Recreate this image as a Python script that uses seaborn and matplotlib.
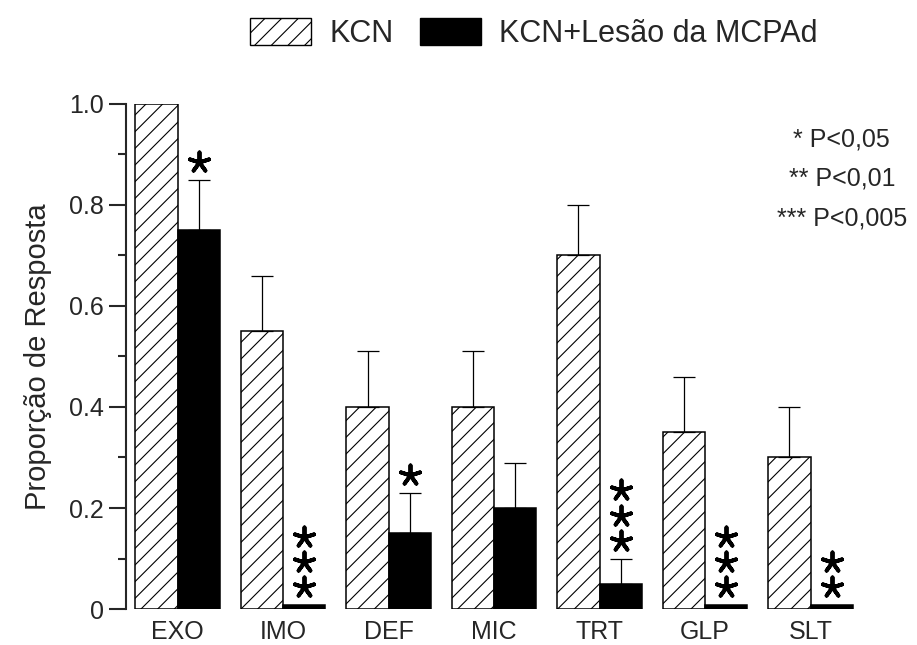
import matplotlib
matplotlib.use("Agg")
import matplotlib.pyplot as plt
import matplotlib.ticker as mticker
from matplotlib.patches import Patch
import seaborn as sns
import pandas as pd

categories = ["EXO", "IMO", "DEF", "MIC", "TRT", "GLP", "SLT"]
groups = ["KCN", "KCN+Lesão da MCPAd"]
kcn_vals = [1.0, 0.55, 0.40, 0.40, 0.70, 0.35, 0.30]
kcn_err = [0.0, 0.11, 0.11, 0.11, 0.10, 0.11, 0.10]
les_vals = [0.75, 0.008, 0.15, 0.20, 0.05, 0.008, 0.008]
les_err = [0.10, 0.0, 0.08, 0.09, 0.05, 0.0, 0.0]
les_stars = [1, 3, 1, 0, 3, 3, 2]
yticks = [0, 0.2, 0.4, 0.6, 0.8, 1.0]
ytick_labels = ["0", "0.2", "0.4", "0.6", "0.8", "1.0"]
pval_text = ["* P<0,05", "** P<0,01", "*** P<0,005"]

sns.set_style("ticks")
plt.rcParams["font.family"] = ["Liberation Sans", "DejaVu Sans"]
plt.rcParams["hatch.linewidth"] = 0.8

df = pd.DataFrame({
    "cat": categories * 2,
    "grp": [groups[0]] * len(categories) + [groups[1]] * len(categories),
    "val": kcn_vals + les_vals,
})

fig = plt.figure(figsize=(9.17, 6.45), dpi=100)
ax = fig.add_axes([0.1374, 0.0558, 0.804, 0.783])

sns.barplot(data=df, x="cat", y="val", hue="grp", order=categories,
            hue_order=groups, palette=["white", "black"], edgecolor="black",
            linewidth=1.1, errorbar=None, width=0.8, ax=ax, legend=False,
            saturation=1)

n = len(categories)
patches = list(ax.patches)
kcn_patches = patches[:n]
les_patches = patches[n:2 * n]
for p in kcn_patches:
    p.set_hatch("//")

kx = [p.get_x() + p.get_width() / 2 for p in kcn_patches]
lx = [p.get_x() + p.get_width() / 2 for p in les_patches]

for x, v, e in zip(kx, kcn_vals, kcn_err):
    if e > 0:
        ax.errorbar([x], [v], yerr=[[0], [e]], fmt="none", ecolor="black",
                    elinewidth=0.9, capsize=8, capthick=0.9, zorder=1)
for x, v, e in zip(lx, les_vals, les_err):
    if e > 0:
        ax.errorbar([x], [v], yerr=[[0], [e]], fmt="none", ecolor="black",
                    elinewidth=0.9, capsize=8, capthick=0.9, zorder=1)

for x, v, e, s in zip(lx, les_vals, les_err, les_stars):
    top = v + e
    for k in range(s):
        y = top + 0.035 + k * 0.05
        ax.scatter([x], [y], marker=(5, 2, 0), s=210, color="black",
                   linewidths=2.8, clip_on=False, zorder=5)

ax.set_xlim(-0.49, 6.5)
ax.set_ylim(0, 1.0)
ax.set_yticks(yticks)
ax.yaxis.set_major_formatter(mticker.FixedFormatter(ytick_labels))
ax.yaxis.set_minor_locator(mticker.MultipleLocator(0.1))
ax.tick_params(axis="y", which="major", length=12, width=1.5, labelsize=18,
               direction="out", pad=4)
ax.tick_params(axis="y", which="minor", length=6, width=1.5, direction="out")
ax.tick_params(axis="x", length=0, labelsize=18, pad=8)
ax.set_xlabel("")
ax.set_ylabel("Proporção de Resposta", fontsize=21, labelpad=12)
sns.despine(ax=ax, bottom=True)
ax.spines["left"].set_linewidth(1.5)

ys = [0.7736, 0.713, 0.651]
for t, y in zip(pval_text, ys):
    fig.text(0.918, y, t, ha="center", va="baseline", fontsize=18)

handles = [Patch(facecolor="white", edgecolor="black", hatch="//", label=groups[0]),
           Patch(facecolor="black", edgecolor="black", label=groups[1])]
fig.legend(handles=handles, loc="upper center", bbox_to_anchor=(0.582, 1.0),
           ncol=2, frameon=False, fontsize=22, handlelength=2.0,
           handleheight=0.95, columnspacing=0.85, handletextpad=0.6,
           borderaxespad=0.2)

fig.savefig("out.png", dpi=100)
